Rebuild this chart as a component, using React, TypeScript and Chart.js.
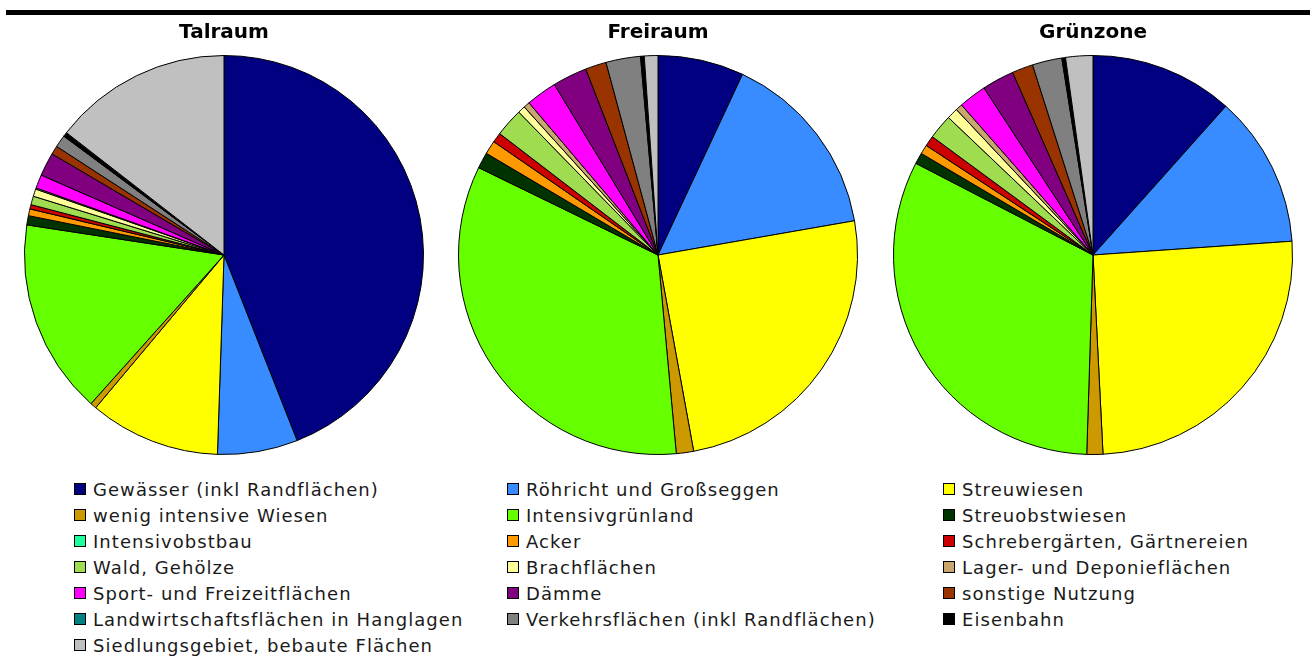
import React, { useEffect, useRef } from "react";
import { Chart, registerables } from "chart.js";

Chart.register(...registerables);

const categories = [
  "Gewässer (inkl Randflächen)",
  "Röhricht und Großseggen",
  "Streuwiesen",
  "wenig intensive Wiesen",
  "Intensivgrünland",
  "Streuobstwiesen",
  "Intensivobstbau",
  "Acker",
  "Schrebergärten, Gärtnereien",
  "Wald, Gehölze",
  "Brachflächen",
  "Lager- und Deponieflächen",
  "Sport- und Freizeitflächen",
  "Dämme",
  "sonstige Nutzung",
  "Landwirtschaftsflächen in Hanglagen",
  "Verkehrsflächen (inkl Randflächen)",
  "Eisenbahn",
  "Siedlungsgebiet, bebaute Flächen",
];

const colors = [
  "#000080",
  "#388CFF",
  "#FFFF00",
  "#CC9900",
  "#66FF00",
  "#003300",
  "#20FFA0",
  "#FF9900",
  "#CC0000",
  "#A0DC50",
  "#FFFF99",
  "#C8A66E",
  "#FF00FF",
  "#800080",
  "#993300",
  "#008080",
  "#808080",
  "#000000",
  "#C0C0C0",
];

const talraum = [44.05, 6.5, 10.6, 0.5, 15.8, 0.75, 0, 0.55, 0.35, 0.7, 0.6, 0.1, 1.1, 1.9, 0.7, 0, 1.0, 0.35, 14.5];
const freiraum = [6.97, 15.3, 24.9, 1.4, 33.7, 1.3, 0, 1.1, 0.8, 2.3, 0.6, 0.5, 2.5, 2.8, 1.7, 0, 2.8, 0.3, 1.1];
const gruenzone = [11.6, 12.3, 25.3, 1.3, 32.1, 0.9, 0, 0.75, 0.85, 2.0, 0.9, 0.55, 2.25, 2.6, 1.7, 0, 2.4, 0.3, 2.2];

const pieTitles = ["Talraum", "Freiraum", "Grünzone"];
const pieValues = [talraum, freiraum, gruenzone];

const pieLefts = [24, 458, 893];
const legendCols = [74, 507, 943];
const legendTop = 483;
const legendRowH = 26;

function Pie({ title, values, left }: { title: string; values: number[]; left: number }) {
  const ref = useRef<HTMLCanvasElement | null>(null);
  useEffect(() => {
    if (!ref.current) return;
    const chart = new Chart(ref.current, {
      type: "pie",
      data: {
        labels: categories,
        datasets: [
          {
            data: values,
            backgroundColor: colors,
            borderColor: "#000000",
            borderWidth: 1,
          },
        ],
      },
      options: {
        animation: false,
        responsive: false,
        maintainAspectRatio: false,
        layout: { padding: 0 },
        plugins: {
          legend: { display: false },
          tooltip: { enabled: false },
          title: {
            display: true,
            text: title,
            color: "#000000",
            font: { family: "DejaVu Sans", size: 20, weight: "bold" },
            padding: { top: 7, bottom: 9 },
          },
        },
      },
    });
    return () => chart.destroy();
  }, [title, values]);
  return (
    <canvas
      ref={ref}
      width={400}
      height={442}
      style={{ position: "absolute", left, top: 14, width: 400, height: 442 }}
    />
  );
}

export default function App() {
  return (
    <div
      style={{
        position: "fixed",
        left: 0,
        top: 0,
        width: 1310,
        height: 662,
        background: "#ffffff",
        overflow: "hidden",
      }}
    >
      <div style={{ position: "absolute", left: 6, top: 10, width: 1304, height: 5, background: "#000" }} />
      {pieTitles.map((t, i) => (
        <Pie key={t} title={t} values={pieValues[i]} left={pieLefts[i]} />
      ))}
      {categories.map((c, i) => {
        const col = i % 3;
        const row = Math.floor(i / 3);
        return (
          <div
            key={c}
            style={{
              position: "absolute",
              left: legendCols[col],
              top: legendTop + row * legendRowH - 6,
              height: 24,
              display: "flex",
              alignItems: "center",
              fontFamily: "DejaVu Sans",
              fontSize: 18,
              letterSpacing: 1.05,
              color: "#1a1a1a",
              whiteSpace: "nowrap",
            }}
          >
            <span
              style={{
                display: "inline-block",
                width: 10,
                height: 10,
                background: colors[i],
                border: "1px solid #000",
                marginRight: 7,
              }}
            />
            <span>{c}</span>
          </div>
        );
      })}
    </div>
  );
}
